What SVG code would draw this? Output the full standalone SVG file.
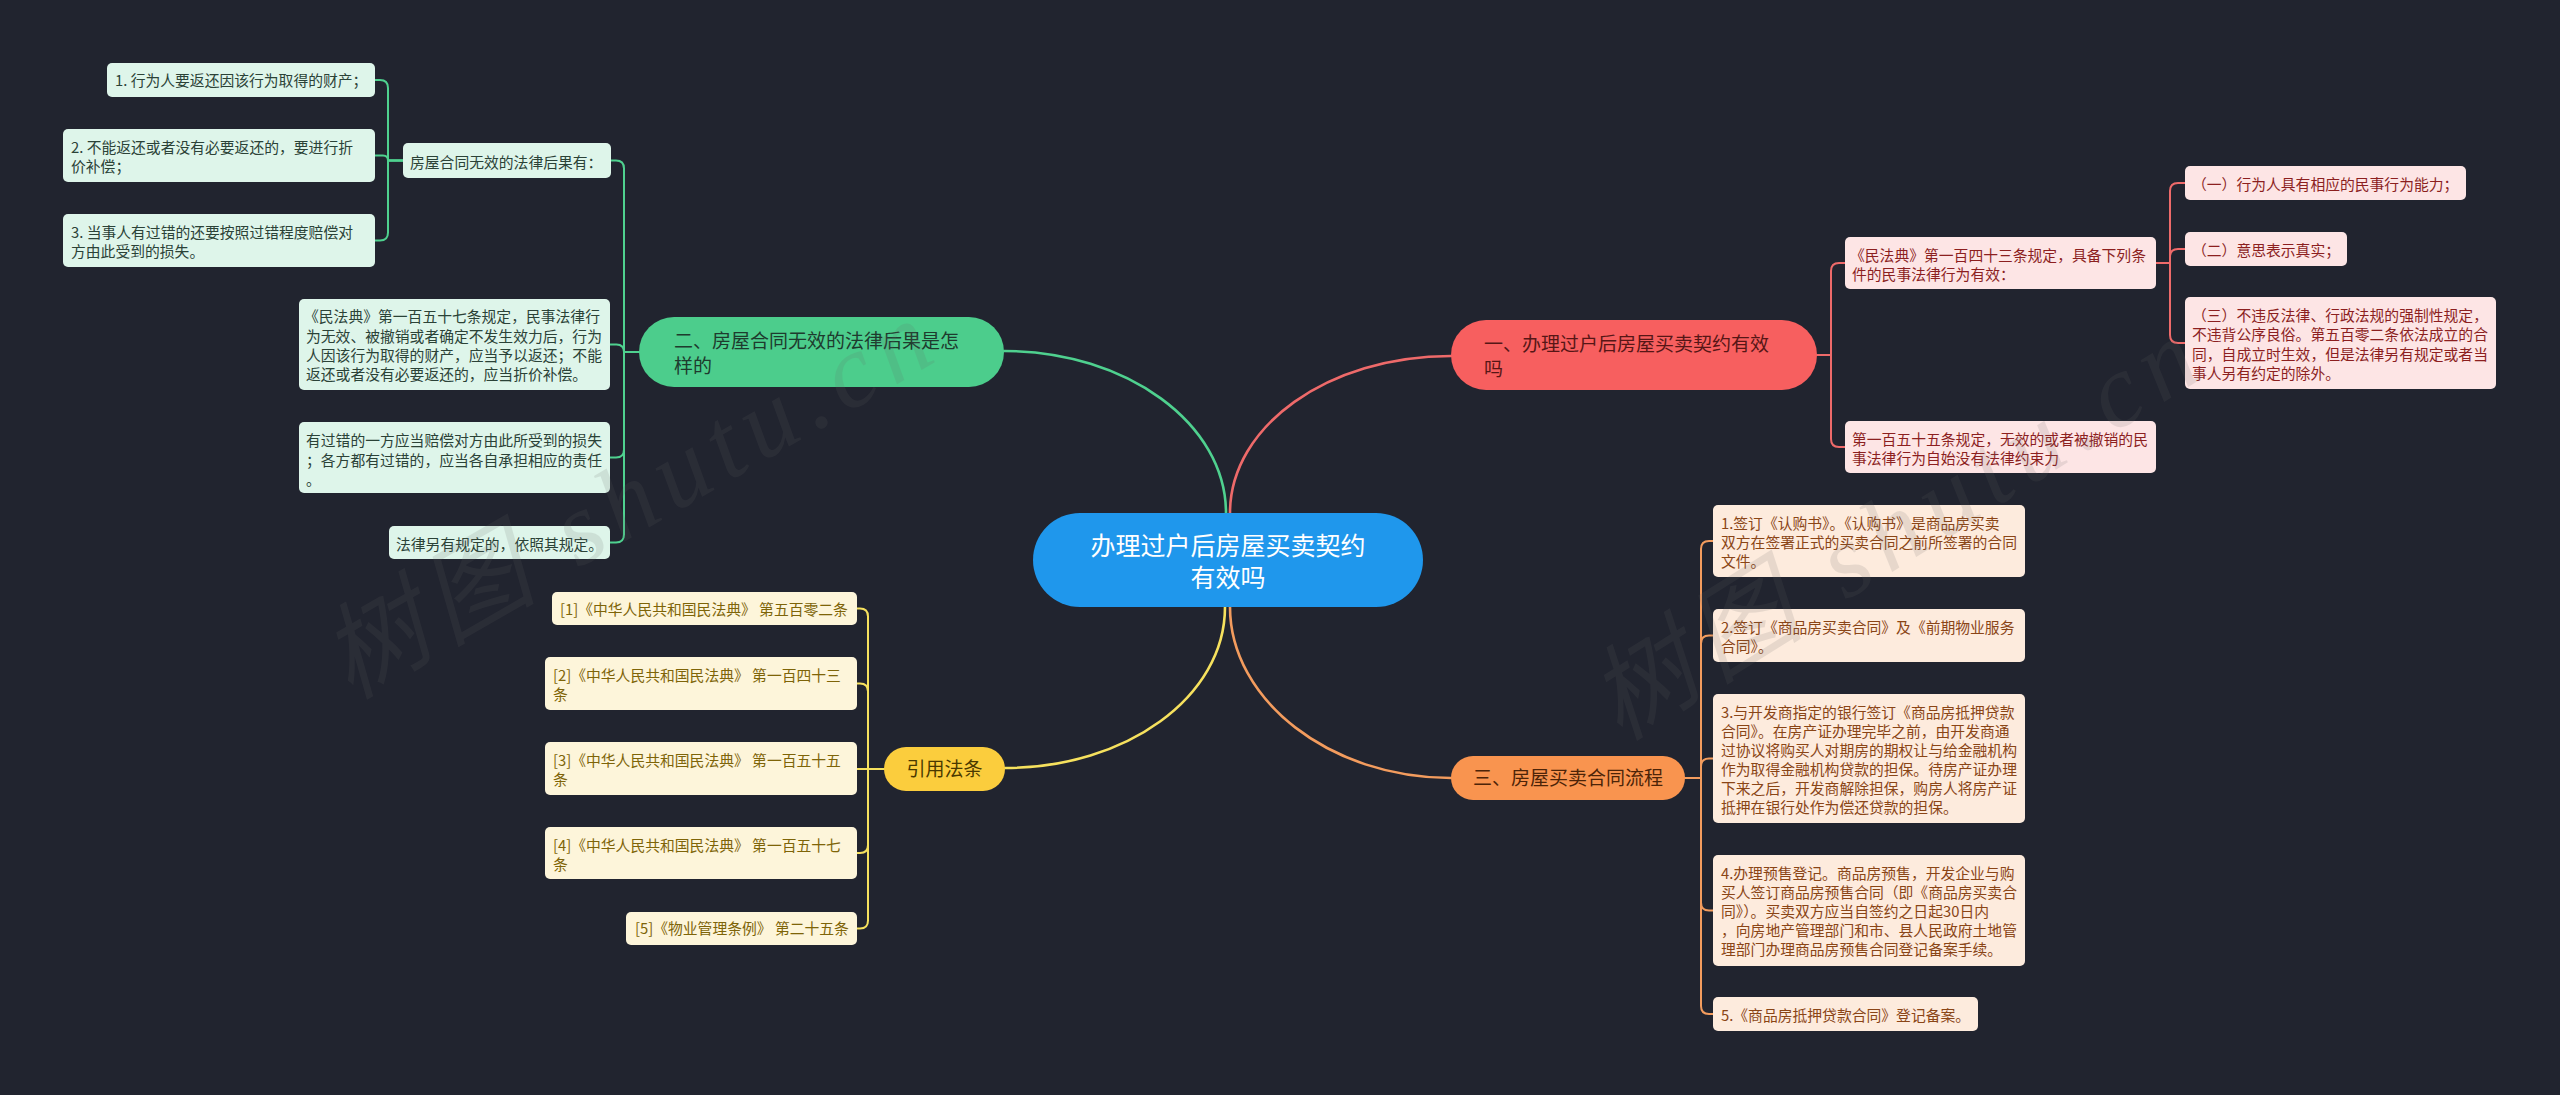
<svg xmlns="http://www.w3.org/2000/svg" width="2560" height="1095" viewBox="0 0 2560 1095">
<style>
text{font-family:"Noto Sans CJK SC","Noto Sans",sans-serif;}
.lf{font-size:14.8px;}
.br{font-size:19px;}
.c{stroke-width:2;fill:none;stroke-linejoin:round;stroke-linecap:round;}
.m{stroke-width:2.6;fill:none;stroke-linecap:round;}
.cg{stroke:#4fd18f;} .cr{stroke:#ee6a6a;} .cy{stroke:#f6e15e;} .co{stroke:#f39c5e;}
.lg{fill:#def5ea;} .tg{fill:#2b4237;}
.lr{fill:#fde5e5;} .tr{fill:#8c1f1f;}
.ly{fill:#fdf5da;} .ty{fill:#7e6408;}
.lo{fill:#fdebdd;} .to{fill:#8a4516;}
.wm{font-family:"Liberation Serif","Noto Sans CJK SC",serif;font-size:104px;fill:#666;opacity:0.14;font-style:italic;}
</style>
<rect x="0" y="0" width="2560" height="1095" fill="#21242f"/>

<g id="connectors">
  <path class="m cg" d="M1004,351 C1127,351 1226,424 1226,513"/>
  <path class="m cr" d="M1451,356 C1328,356 1230,426 1230,513"/>
  <path class="m cy" d="M1225,607 C1225,697 1126,768 1005,768"/>
  <path class="m co" d="M1230,607 C1230,700 1330,778 1451,778"/>
  <!-- green sub group -->
  <path class="c cg" d="M403,160.5 H388 V88 Q388,80 380,80 H375"/>
  <path class="c cg" d="M403,160.5 H388 Q388,155.5 383,155.5 H375"/>
  <path class="c cg" d="M403,160.5 H388 V232.5 Q388,240.5 380,240.5 H375"/>
  <!-- green main -->
  <path class="c cg" d="M639,352 H624 V168.5 Q624,160.5 616,160.5 H610"/>
  <path class="c cg" d="M639,352 H624 Q624,344.5 616.5,344.5 H610"/>
  <path class="c cg" d="M639,352 H624 V449.5 Q624,457.5 616,457.5 H610"/>
  <path class="c cg" d="M639,352 H624 V534.5 Q624,542.5 616,542.5 H610"/>
  <!-- yellow -->
  <path class="c cy" d="M884,769 H868 V616.5 Q868,608.5 860,608.5 H857"/>
  <path class="c cy" d="M884,769 H868 V691.5 Q868,683.5 860,683.5 H857"/>
  <path class="c cy" d="M884,769 H857"/>
  <path class="c cy" d="M884,769 H868 V845 Q868,853 860,853 H857"/>
  <path class="c cy" d="M884,769 H868 V920.5 Q868,928.5 860,928.5 H857"/>
  <!-- red -->
  <path class="c cr" d="M1817,355 H1831 V271 Q1831,263 1839,263 H1845"/>
  <path class="c cr" d="M1817,355 H1831 V439 Q1831,447 1839,447 H1845"/>
  <path class="c cr" d="M2156,263 H2170 V191 Q2170,183 2178,183 H2185"/>
  <path class="c cr" d="M2156,263 H2170 V257 Q2170,249 2178,249 H2185"/>
  <path class="c cr" d="M2156,263 H2170 V335 Q2170,343 2178,343 H2185"/>
  <!-- orange -->
  <path class="c co" d="M1685,778 H1701 V549 Q1701,541 1709,541 H1713"/>
  <path class="c co" d="M1685,778 H1701 V643.5 Q1701,635.5 1709,635.5 H1713"/>
  <path class="c co" d="M1685,778 H1701 V766.5 Q1701,758.5 1709,758.5 H1713"/>
  <path class="c co" d="M1685,778 H1701 V902.5 Q1701,910.5 1709,910.5 H1713"/>
  <path class="c co" d="M1685,778 H1701 V1006 Q1701,1014 1709,1014 H1713"/>
</g>

<g id="center">
  <rect x="1033" y="513" width="390" height="94" rx="47" fill="#1f97ec"/>
  <text x="1228" y="554.5" text-anchor="middle" font-size="25" fill="#ffffff">办理过户后房屋买卖契约</text>
  <text x="1228" y="586.5" text-anchor="middle" font-size="25" fill="#ffffff">有效吗</text>
</g>

<g id="branch-green">
  <rect x="639" y="317" width="365" height="70" rx="35" fill="#4ccd8c"/>
  <text class="br" x="674" y="348" fill="#1e3b2e">二、房屋合同无效的法律后果是怎</text>
  <text class="br" x="674" y="373" fill="#1e3b2e">样的</text>
</g>
<g id="branch-red">
  <rect x="1451" y="320" width="366" height="70" rx="35" fill="#f75f5f"/>
  <text class="br" x="1484" y="350.5" fill="#561616">一、办理过户后房屋买卖契约有效</text>
  <text class="br" x="1484" y="375.5" fill="#561616">吗</text>
</g>
<g id="branch-yellow">
  <rect x="884" y="747" width="121" height="44" rx="22" fill="#fbcd3d"/>
  <text class="br" x="944.5" y="776" text-anchor="middle" fill="#4a3900">引用法条</text>
</g>
<g id="branch-orange">
  <rect x="1451" y="756" width="234" height="44" rx="22" fill="#f9944f"/>
  <text class="br" x="1568" y="785" text-anchor="middle" fill="#4d2408">三、房屋买卖合同流程</text>
</g>

<g id="g-consequences">
  <rect class="lg" x="403" y="143" width="208" height="35" rx="5"/>
  <text class="lf tg" x="410" y="167.5">房屋合同无效的法律后果有：</text>
</g>
<g id="g-c1">
  <rect class="lg" x="107" y="63" width="268" height="34" rx="5"/>
  <text class="lf tg" x="115" y="85.5">1. 行为人要返还因该行为取得的财产；</text>
</g>
<g id="g-c2">
  <rect class="lg" x="63" y="129" width="312" height="53" rx="5"/>
  <text class="lf tg" x="71" y="153">2. 不能返还或者没有必要返还的，要进行折</text>
  <text class="lf tg" x="71" y="172">价补偿；</text>
</g>
<g id="g-c3">
  <rect class="lg" x="63" y="214" width="312" height="53" rx="5"/>
  <text class="lf tg" x="71" y="238">3. 当事人有过错的还要按照过错程度赔偿对</text>
  <text class="lf tg" x="71" y="257">方由此受到的损失。</text>
</g>
<g id="g-art157">
  <rect class="lg" x="299" y="299" width="311" height="91" rx="5"/>
  <text class="lf tg" x="304" y="322">《民法典》第一百五十七条规定，民事法律行</text>
  <text class="lf tg" x="306" y="341.5">为无效、被撤销或者确定不发生效力后，行为</text>
  <text class="lf tg" x="306" y="361">人因该行为取得的财产，应当予以返还；不能</text>
  <text class="lf tg" x="306" y="380">返还或者没有必要返还的，应当折价补偿。</text>
</g>
<g id="g-fault">
  <rect class="lg" x="299" y="422" width="311" height="71" rx="5"/>
  <text class="lf tg" x="306" y="446">有过错的一方应当赔偿对方由此所受到的损失</text>
  <text class="lf tg" x="306" y="465.5">；各方都有过错的，应当各自承担相应的责任</text>
  <text class="lf tg" x="306" y="485">。</text>
</g>
<g id="g-other">
  <rect class="lg" x="389" y="526" width="221" height="33" rx="5"/>
  <text class="lf tg" x="396" y="550">法律另有规定的，依照其规定。</text>
</g>

<g id="y1">
  <rect class="ly" x="552" y="592" width="305" height="33" rx="5"/>
  <text class="lf ty" x="560" y="615">[1]《中华人民共和国民法典》 第五百零二条</text>
</g>
<g id="y2">
  <rect class="ly" x="545" y="657" width="312" height="53" rx="5"/>
  <text class="lf ty" x="553" y="681">[2]《中华人民共和国民法典》 第一百四十三</text>
  <text class="lf ty" x="553" y="700">条</text>
</g>
<g id="y3">
  <rect class="ly" x="545" y="742" width="312" height="53" rx="5"/>
  <text class="lf ty" x="553" y="765.5">[3]《中华人民共和国民法典》 第一百五十五</text>
  <text class="lf ty" x="553" y="784.5">条</text>
</g>
<g id="y4">
  <rect class="ly" x="545" y="827" width="312" height="52" rx="5"/>
  <text class="lf ty" x="553" y="850.5">[4]《中华人民共和国民法典》 第一百五十七</text>
  <text class="lf ty" x="553" y="869.5">条</text>
</g>
<g id="y5">
  <rect class="ly" x="626" y="912" width="231" height="33" rx="5"/>
  <text class="lf ty" x="635" y="934">[5]《物业管理条例》 第二十五条</text>
</g>

<g id="r-art143">
  <rect class="lr" x="1845" y="237" width="311" height="52" rx="5"/>
  <text class="lf tr" x="1850" y="261">《民法典》第一百四十三条规定，具备下列条</text>
  <text class="lf tr" x="1852" y="280">件的民事法律行为有效：</text>
</g>
<g id="r-art155">
  <rect class="lr" x="1845" y="421" width="311" height="52" rx="5"/>
  <text class="lf tr" x="1852" y="445">第一百五十五条规定，无效的或者被撤销的民</text>
  <text class="lf tr" x="1852" y="464">事法律行为自始没有法律约束力</text>
</g>
<g id="r-1">
  <rect class="lr" x="2185" y="166" width="281" height="34" rx="5"/>
  <text class="lf tr" x="2192" y="189.5">（一）行为人具有相应的民事行为能力；</text>
</g>
<g id="r-2">
  <rect class="lr" x="2185" y="232" width="162" height="34" rx="5"/>
  <text class="lf tr" x="2192" y="255.5">（二）意思表示真实；</text>
</g>
<g id="r-3">
  <rect class="lr" x="2185" y="297" width="311" height="92" rx="5"/>
  <text class="lf tr" x="2192" y="320.5">（三）不违反法律、行政法规的强制性规定，</text>
  <text class="lf tr" x="2192" y="340">不违背公序良俗。第五百零二条依法成立的合</text>
  <text class="lf tr" x="2192" y="359.5">同，自成立时生效，但是法律另有规定或者当</text>
  <text class="lf tr" x="2192" y="379">事人另有约定的除外。</text>
</g>

<g id="o1">
  <rect class="lo" x="1713" y="505" width="312" height="72" rx="5"/>
  <text class="lf to" x="1721" y="529">1.签订《认购书》。《认购书》是商品房买卖</text>
  <text class="lf to" x="1721" y="548">双方在签署正式的买卖合同之前所签署的合同</text>
  <text class="lf to" x="1721" y="566.5">文件。</text>
</g>
<g id="o2">
  <rect class="lo" x="1713" y="609" width="312" height="53" rx="5"/>
  <text class="lf to" x="1721" y="633">2.签订《商品房买卖合同》及《前期物业服务</text>
  <text class="lf to" x="1721" y="652">合同》。</text>
</g>
<g id="o3">
  <rect class="lo" x="1713" y="694" width="312" height="129" rx="5"/>
  <text class="lf to" x="1721" y="717.5">3.与开发商指定的银行签订《商品房抵押贷款</text>
  <text class="lf to" x="1721" y="736.5">合同》。在房产证办理完毕之前，由开发商通</text>
  <text class="lf to" x="1721" y="755.5">过协议将购买人对期房的期权让与给金融机构</text>
  <text class="lf to" x="1721" y="775">作为取得金融机构贷款的担保。待房产证办理</text>
  <text class="lf to" x="1721" y="794">下来之后，开发商解除担保，购房人将房产证</text>
  <text class="lf to" x="1721" y="813">抵押在银行处作为偿还贷款的担保。</text>
</g>
<g id="o4">
  <rect class="lo" x="1713" y="855" width="312" height="111" rx="5"/>
  <text class="lf to" x="1721" y="879">4.办理预售登记。商品房预售，开发企业与购</text>
  <text class="lf to" x="1721" y="898">买人签订商品房预售合同（即《商品房买卖合</text>
  <text class="lf to" x="1721" y="916.5">同》）。买卖双方应当自签约之日起30日内</text>
  <text class="lf to" x="1721" y="935.5">，向房地产管理部门和市、县人民政府土地管</text>
  <text class="lf to" x="1721" y="955">理部门办理商品房预售合同登记备案手续。</text>
</g>
<g id="o5">
  <rect class="lo" x="1713" y="997" width="265" height="34" rx="5"/>
  <text class="lf to" x="1721" y="1021">5.《商品房抵押贷款合同》登记备案。</text>
</g>

<g id="watermarks">
  <text class="wm" transform="translate(350,700) rotate(-30)" textLength="680" lengthAdjust="spacing">树图 shutu.cn</text>
  <text class="wm" transform="translate(1620,742) rotate(-32)" textLength="690" lengthAdjust="spacing">树图 shutu.cn</text>
</g>
</svg>
